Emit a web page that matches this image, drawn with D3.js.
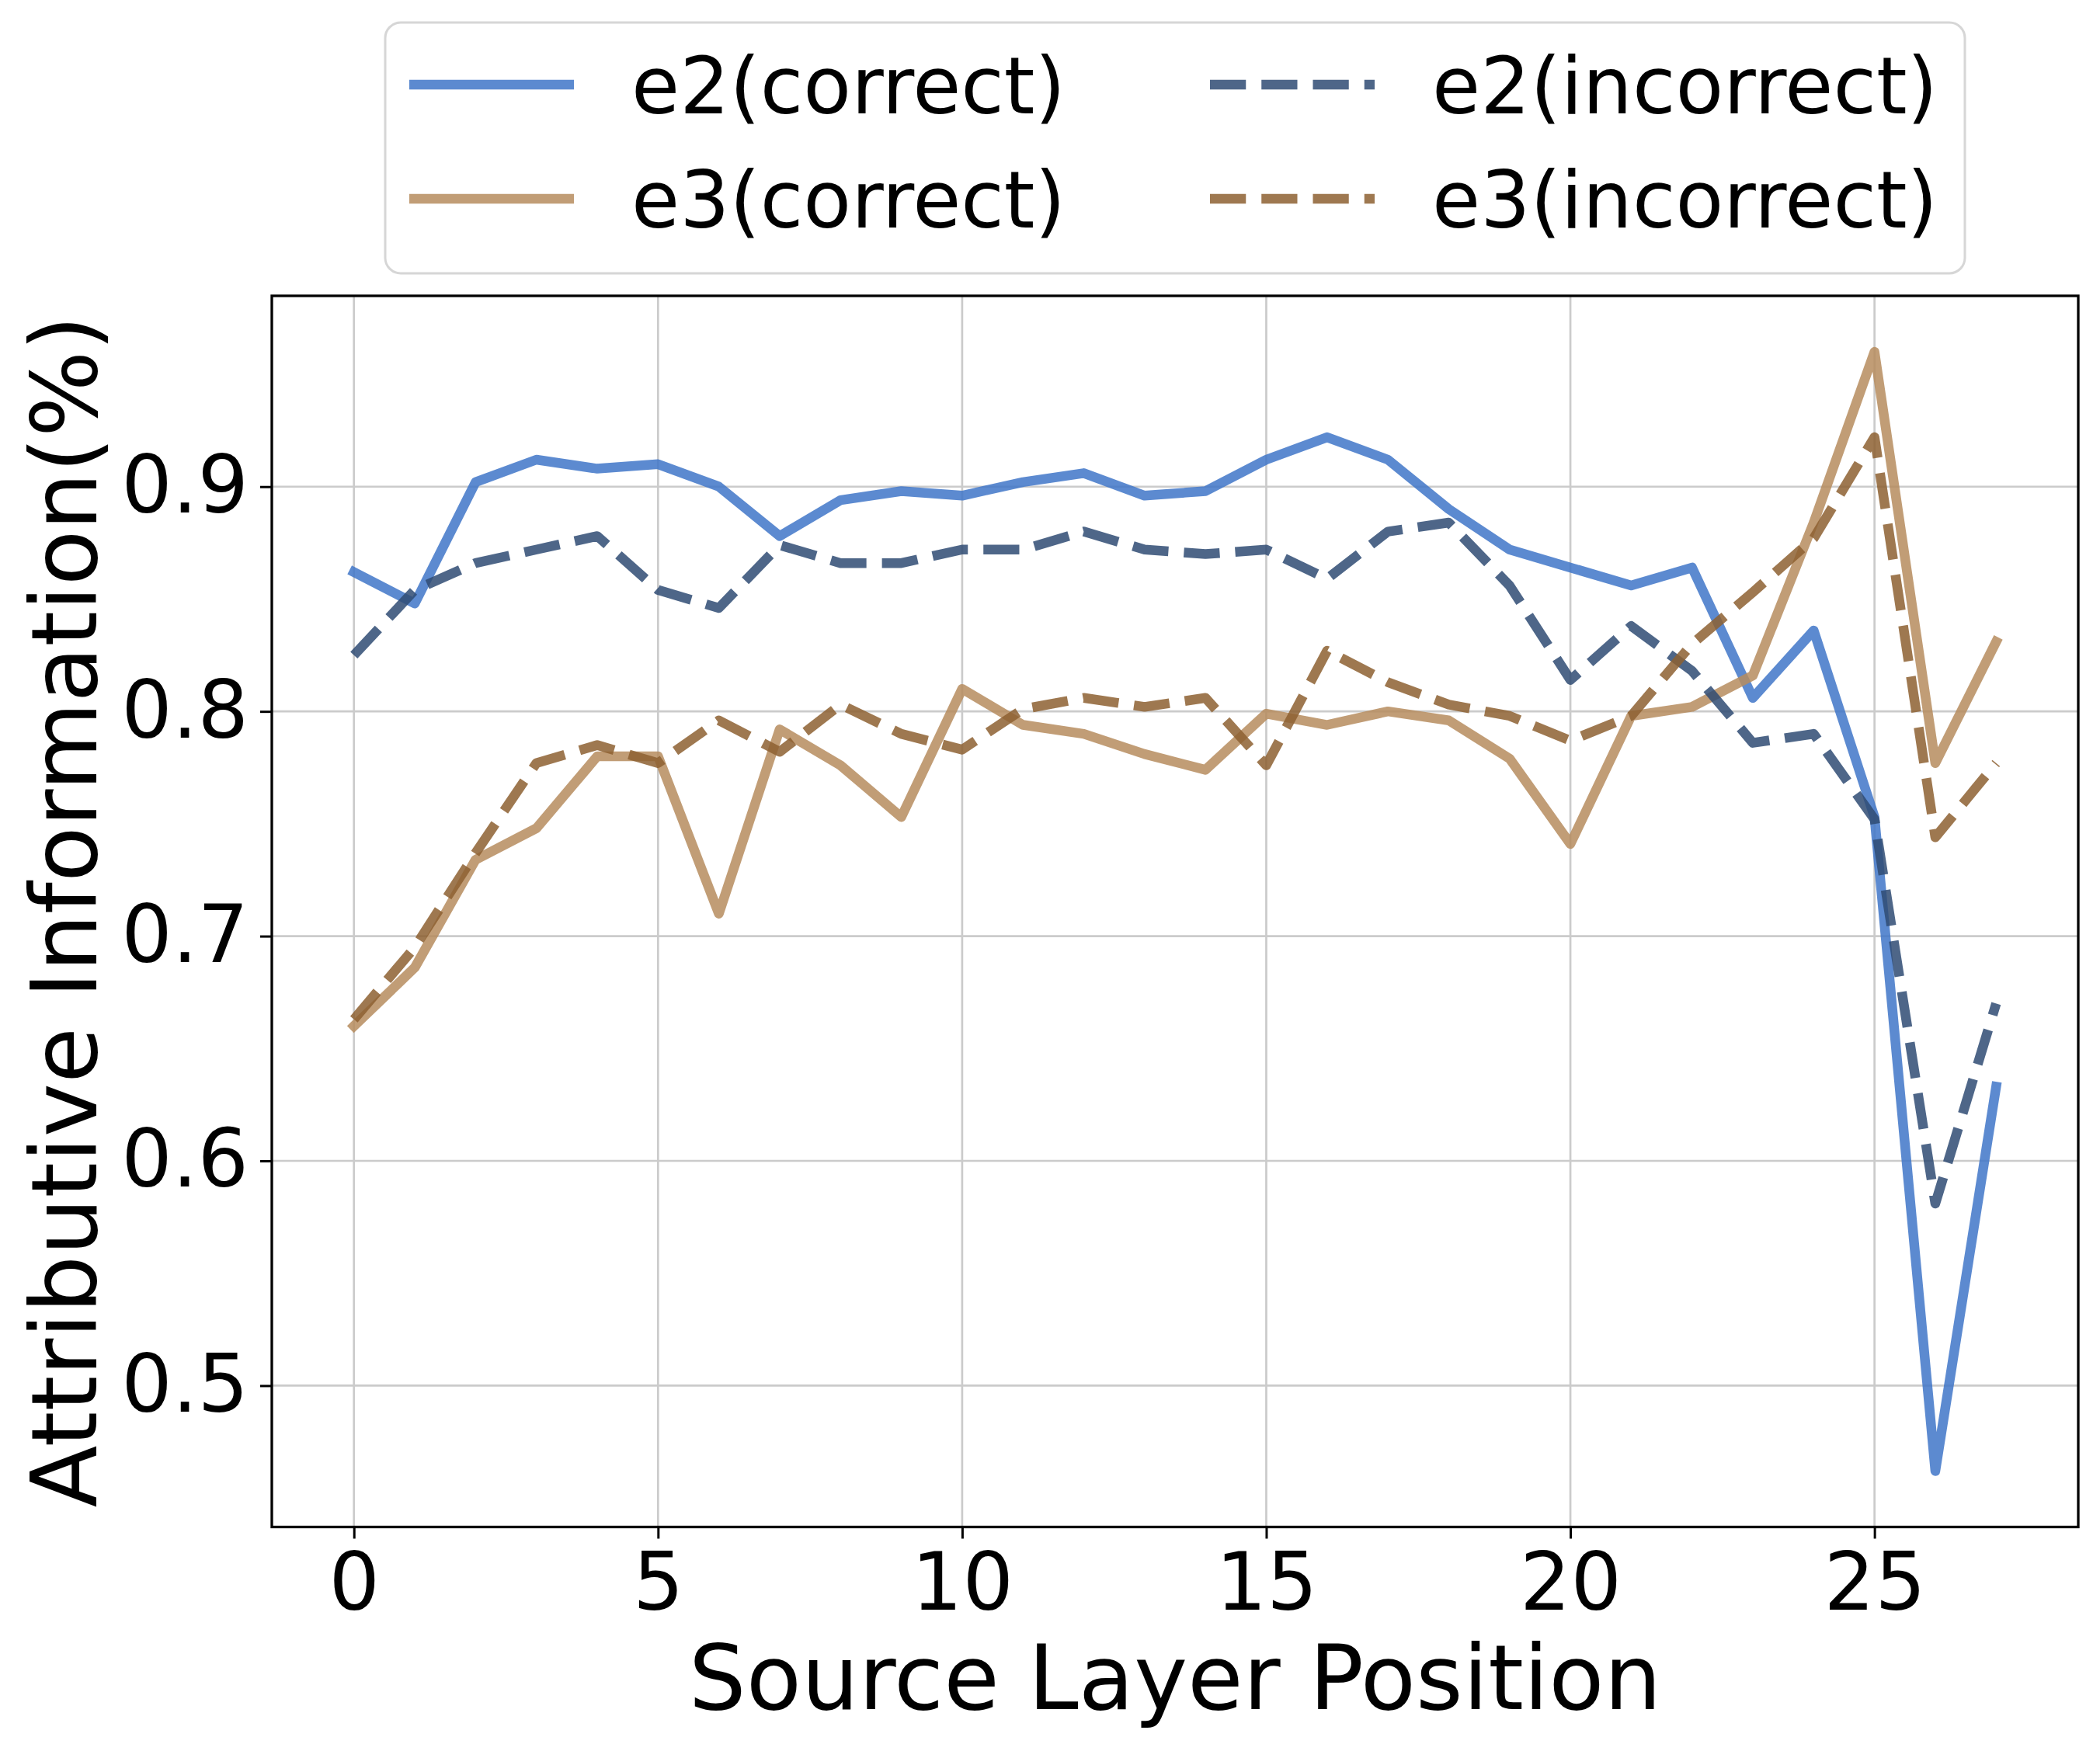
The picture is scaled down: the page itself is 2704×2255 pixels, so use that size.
<!DOCTYPE html>
<html>
<head>
<meta charset="utf-8">
<script src="https://cdn.jsdelivr.net/npm/d3@7/dist/d3.min.js"></script>
<style>
	body { margin: 0; background: #fff; }
	svg text { font-family: "DejaVu Sans", sans-serif; fill: #000; }
</style>
</head>
<body>
<div id="c-chart"></div>
<script>

//data
const layers = [0,1,2,3,4,5,6,7,8,9,10,11,12,13,14,15,16,17,18,19,20,21,22,23,24,25,26,27];

const e2Correct = [0.862,0.848,0.902,0.912,0.908,0.910,0.900,0.878,0.894,0.898,0.896,0.902,0.906,0.896,
	0.898,0.912,0.922,0.912,0.890,0.872,0.864,0.856,0.864,0.806,0.836,0.753,0.462,0.633];
const e2Incorrect = [0.825,0.854,0.866,0.872,0.878,0.854,0.846,0.874,0.866,0.866,0.872,0.872,0.880,0.872,
	0.870,0.872,0.859,0.880,0.884,0.856,0.814,0.838,0.818,0.786,0.790,0.752,0.581,0.670];
const e3Correct = [0.660,0.686,0.734,0.748,0.780,0.780,0.710,0.792,0.776,0.753,0.810,0.794,0.790,0.781,
	0.774,0.799,0.794,0.800,0.796,0.779,0.741,0.798,0.802,0.816,0.884,0.960,0.777,0.831];
const e3Incorrect = [0.663,0.695,0.737,0.777,0.785,0.777,0.796,0.782,0.803,0.790,0.783,0.801,0.806,0.802,
	0.806,0.776,0.827,0.813,0.803,0.798,0.787,0.798,0.830,0.853,0.877,0.922,0.744,0.777];

const seriesNames = ["e2(correct)", "e3(correct)", "e2(incorrect)", "e3(incorrect)"];
const seriesValues = [e2Correct, e3Correct, e2Incorrect, e3Incorrect];
const seriesColors = ["#4076c8", "#b68c5e", "#2f4b73", "#8d6031"];
const seriesDashed = [false, false, true, true];

const xTicks = [0, 5, 10, 15, 20, 25];
const yTicks = [0.5, 0.6, 0.7, 0.8, 0.9];


function chart(){

	//sizing
	let width = 2704;
	let height = 2255;
	let margin = {top: 381, right: 28, bottom: 288.5, left: 350};

	let lw = 12.5;
	let dash = (3.7*lw) + "," + (1.6*lw);

	let svg = d3.select("#c-chart")
		.append("svg")
		.attr("width", width)
		.attr("height", height)
		.style("display", "block");

	svg.append("rect")
		.attr("width", width)
		.attr("height", height)
		.attr("fill", "#fff");

	//scales (matplotlib style 5% margins)
	let xExt = d3.extent(layers);
	let xPad = (xExt[1] - xExt[0]) * 0.05;
	let x = d3.scaleLinear()
		.domain([xExt[0] - xPad, xExt[1] + xPad])
		.range([margin.left, width - margin.right]);

	let allVals = [].concat(...seriesValues);
	let yExt = d3.extent(allVals);
	let yPad = (yExt[1] - yExt[0]) * 0.05;
	let y = d3.scaleLinear()
		.domain([yExt[0] - yPad, yExt[1] + yPad])
		.range([height - margin.bottom, margin.top]);

	//grid
	let grid = svg.append("g").attr("class", "grid");
	grid.selectAll(".gx")
		.data(xTicks)
		.join("line")
		.attr("x1", d => x(d)).attr("x2", d => x(d))
		.attr("y1", margin.top).attr("y2", height - margin.bottom)
		.attr("stroke", "#cbcbcb")
		.attr("stroke-width", 2.7);
	grid.selectAll(".gy")
		.data(yTicks)
		.join("line")
		.attr("y1", d => y(d)).attr("y2", d => y(d))
		.attr("x1", margin.left).attr("x2", width - margin.right)
		.attr("stroke", "#cbcbcb")
		.attr("stroke-width", 2.7);

	//lines
	let line = d3.line()
		.x((d, i) => x(layers[i]))
		.y(d => y(d));

	let plot = svg.append("g").attr("class", "lines");
	seriesValues.forEach((vals, k) => {
		plot.append("path")
			.datum(vals)
			.attr("d", line)
			.attr("fill", "none")
			.attr("stroke", seriesColors[k])
			.attr("stroke-opacity", 0.85)
			.attr("stroke-width", lw)
			.attr("stroke-linejoin", "round")
			.attr("stroke-linecap", seriesDashed[k] ? "butt" : "square")
			.attr("stroke-dasharray", seriesDashed[k] ? dash : null);
	});

	//axes
	let xAxis = svg.append("g")
		.attr("transform", `translate(0,${height - margin.bottom})`)
		.call(d3.axisBottom(x).tickValues(xTicks).tickSize(15).tickPadding(18).tickSizeOuter(0));
	let yAxis = svg.append("g")
		.attr("transform", `translate(${margin.left},0)`)
		.call(d3.axisLeft(y).tickValues(yTicks).tickSize(15).tickPadding(15).tickSizeOuter(0).tickFormat(d3.format(".1f")));

	[xAxis, yAxis].forEach(a => {
		a.select(".domain").remove();
		a.selectAll(".tick line").attr("stroke", "#000").attr("stroke-width", 3);
		a.selectAll(".tick text").attr("font-size", 103).attr("font-family", "DejaVu Sans");
	});

	//frame
	svg.append("rect")
		.attr("x", margin.left)
		.attr("y", margin.top)
		.attr("width", width - margin.left - margin.right)
		.attr("height", height - margin.top - margin.bottom)
		.attr("fill", "none")
		.attr("stroke", "#000")
		.attr("stroke-width", 3.3);

	//labels
	svg.append("text")
		.attr("x", (margin.left + width - margin.right) / 2)
		.attr("y", 2201)
		.attr("text-anchor", "middle")
		.attr("font-size", 116.5)
		.text("Source Layer Position");

	svg.append("text")
		.attr("transform", `translate(124,${(margin.top + height - margin.bottom) / 2}) rotate(-90)`)
		.attr("text-anchor", "middle")
		.attr("font-size", 117)
		.text("Attributive Information(%)");

	//legend
	let legend = svg.append("g").attr("class", "legend");
	legend.append("rect")
		.attr("x", 496).attr("y", 29)
		.attr("width", 2034).attr("height", 323)
		.attr("rx", 20).attr("ry", 20)
		.attr("fill", "#fff")
		.attr("stroke", "#d6d6d6")
		.attr("stroke-width", 3);

	let colX = [527, 1558];
	let rowY = [109, 256];
	seriesNames.forEach((name, k) => {
		let cx = colX[Math.floor(k / 2)];
		let cy = rowY[k % 2];
		legend.append("line")
			.attr("x1", cx).attr("x2", cx + 212)
			.attr("y1", cy).attr("y2", cy)
			.attr("stroke", seriesColors[k])
			.attr("stroke-opacity", 0.85)
			.attr("stroke-width", lw)
			.attr("stroke-dasharray", seriesDashed[k] ? dash : null);
		legend.append("text")
			.attr("x", cx + 212 + 74)
			.attr("y", cy + 37)
			.attr("font-size", 101)
			.text(name);
	});

} //function chart

chart();

</script>
</body>
</html>
